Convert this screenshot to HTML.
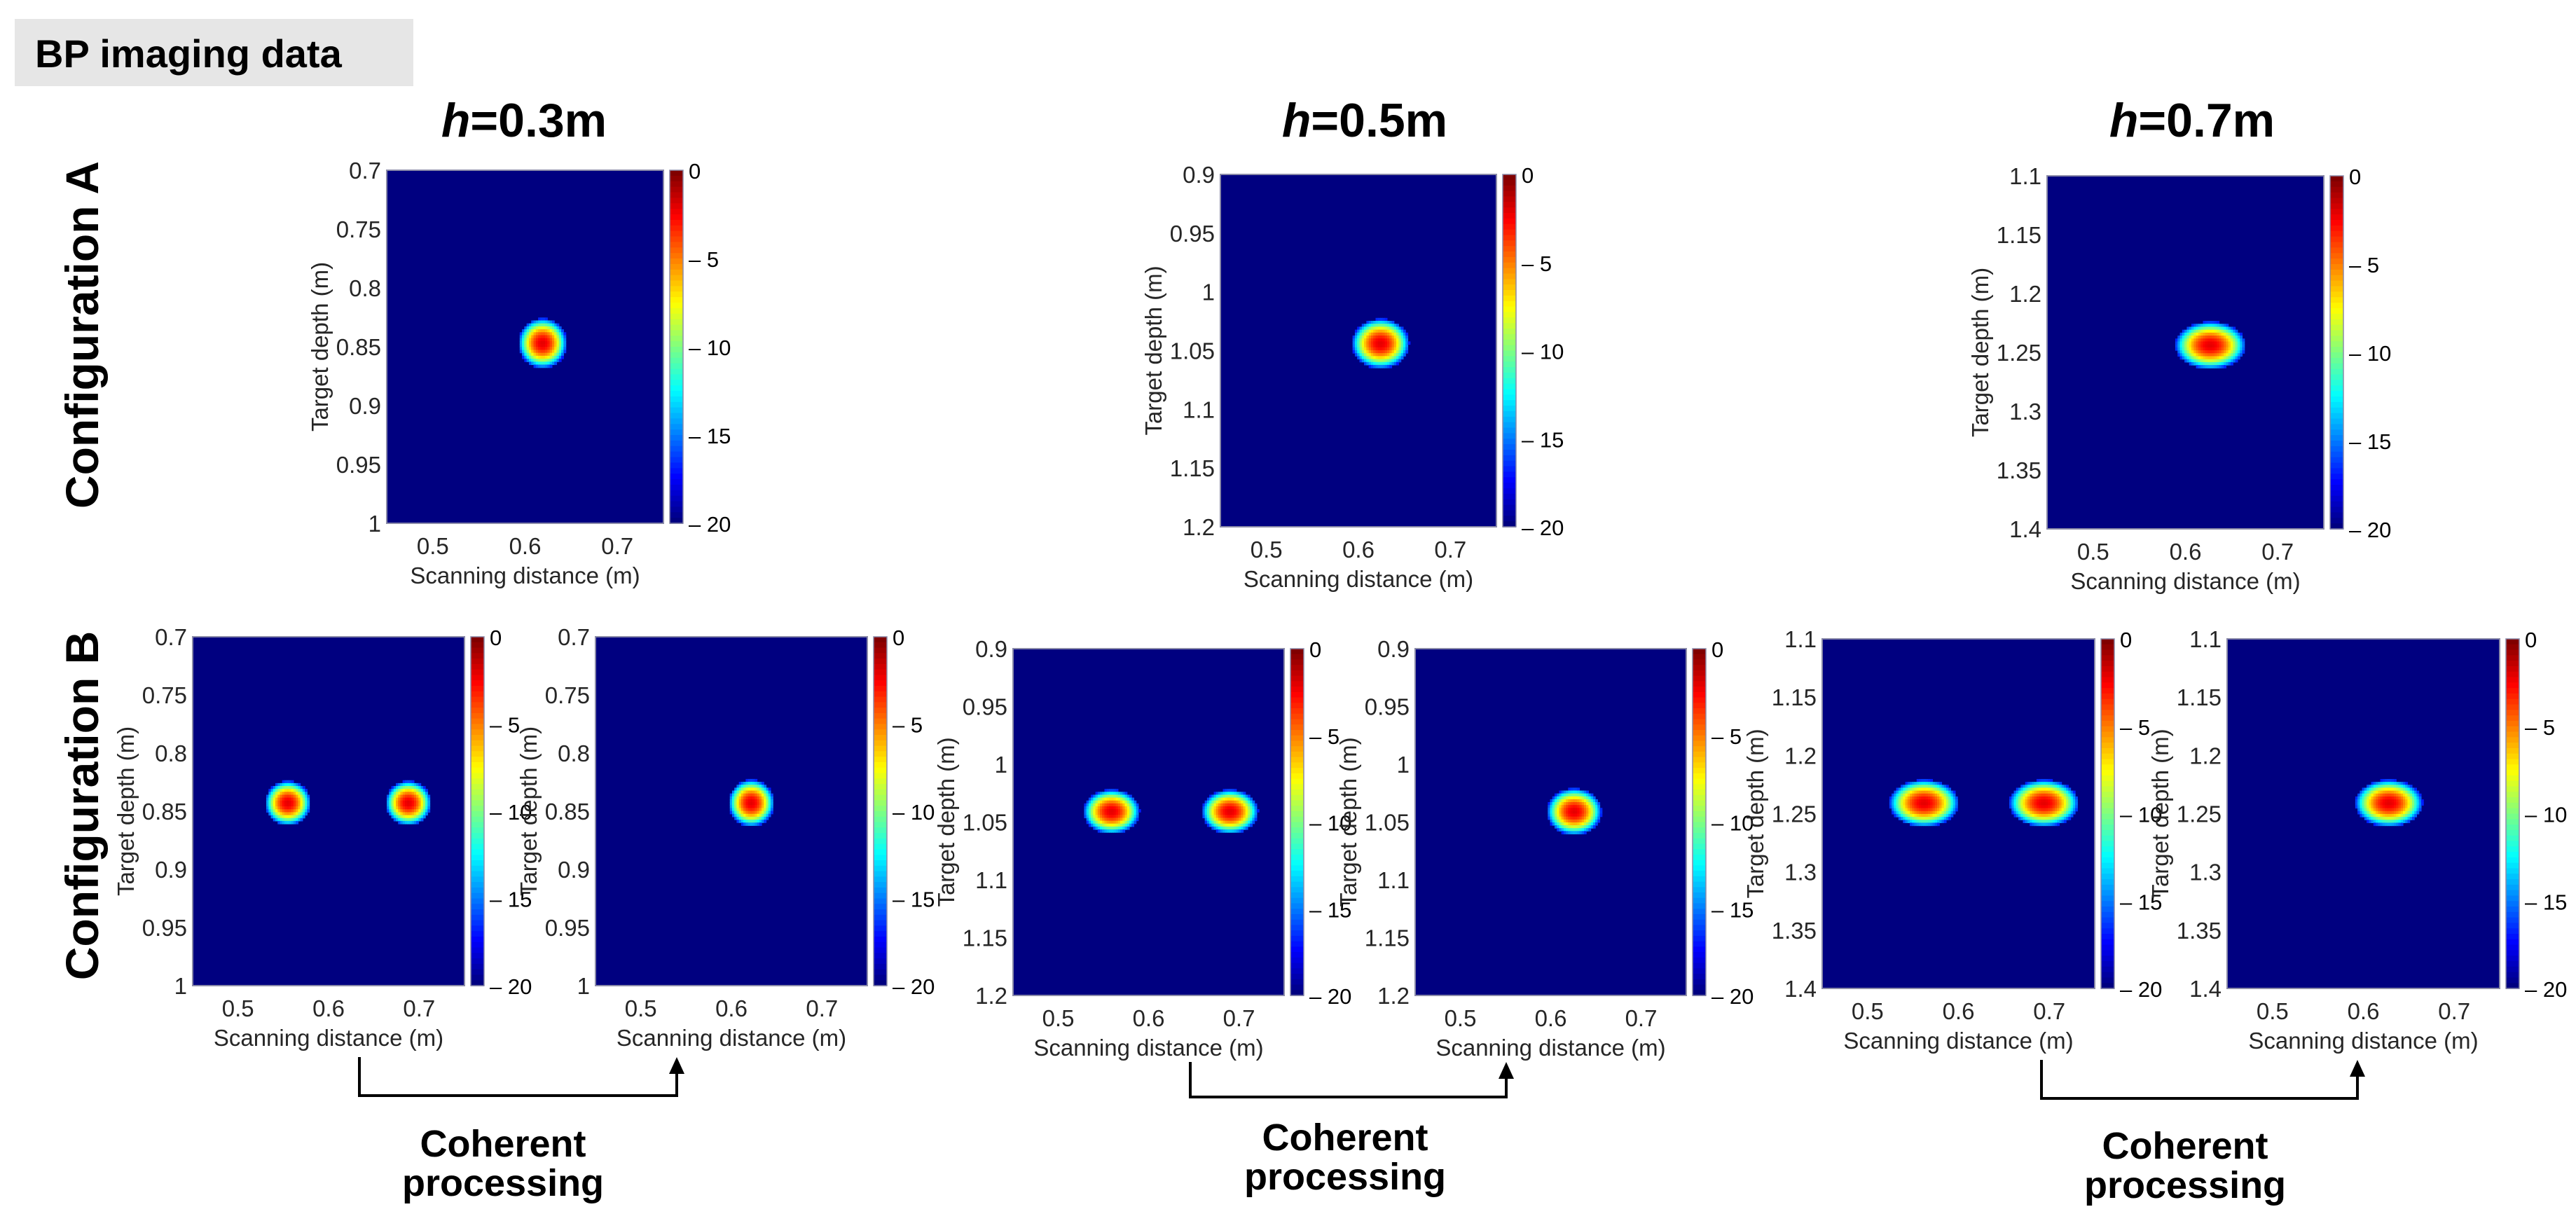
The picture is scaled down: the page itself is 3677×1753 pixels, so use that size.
<!DOCTYPE html>
<html><head><meta charset="utf-8"><style>
html,body{margin:0;padding:0;background:#fff;}
svg{display:block;font-family:"Liberation Sans",Arial,sans-serif;}
</style></head><body>
<svg id="fig" width="3677" height="1753" viewBox="0 0 3677 1753" xmlns="http://www.w3.org/2000/svg">
<rect x="0" y="0" width="3677" height="1753" fill="#fff"/>
<g>
<rect x="21" y="27" width="569" height="96" fill="#e6e6e6"/>
<text x="50" y="96" font-size="56" font-weight="bold" fill="#000">BP imaging data</text>
</g>
<text x="748" y="195" font-size="68" font-weight="bold" text-anchor="middle"><tspan font-style="italic">h</tspan>=0.3m</text>
<text x="1948" y="195" font-size="68" font-weight="bold" text-anchor="middle"><tspan font-style="italic">h</tspan>=0.5m</text>
<text x="3129" y="195" font-size="68" font-weight="bold" text-anchor="middle"><tspan font-style="italic">h</tspan>=0.7m</text>
<text transform="translate(140,478) rotate(-90)" font-size="66" font-weight="bold" text-anchor="middle">Configuration A</text>
<text transform="translate(140,1150) rotate(-90)" font-size="66" font-weight="bold" text-anchor="middle">Configuration B</text>
<g id="panels"></g>
<g id="arrows"></g>
</svg>
<script>
// ---- data ----
const panelNames = ["a-h03","a-h05","a-h07","b-h03-raw","b-h03-coherent","b-h05-raw","b-h05-coherent","b-h07-raw","b-h07-coherent"];
const depthMin = [0.7,0.9,1.1,0.7,0.7,0.9,0.9,1.1,1.1];
const depthMax = [1.0,1.2,1.4,1.0,1.0,1.2,1.2,1.4,1.4];
const depthTicks = [
 ["0.7","0.75","0.8","0.85","0.9","0.95","1"],
 ["0.9","0.95","1","1.05","1.1","1.15","1.2"],
 ["1.1","1.15","1.2","1.25","1.3","1.35","1.4"]];
const scanMin = 0.45, scanMax = 0.75;
const scanTicks = [0.5,0.6,0.7];
const cbTicks = [0,-5,-10,-15,-20];
// targets per panel: [scan position, depth, half-width (m), half-height (m)]
const targets = [
 [[0.619,0.847,0.026,0.021]],
 [[0.624,1.044,0.031,0.021]],
 [[0.627,1.244,0.038,0.020]],
 [[0.555,0.843,0.025,0.019],[0.688,0.843,0.025,0.019]],
 [[0.622,0.843,0.025,0.020]],
 [[0.559,1.041,0.031,0.019],[0.690,1.041,0.031,0.019]],
 [[0.626,1.041,0.030,0.020]],
 [[0.562,1.241,0.038,0.020],[0.694,1.241,0.038,0.020]],
 [[0.628,1.241,0.037,0.020]]];
// ---- layout ----
const boxes = [
 [552,947,243,747],[1742,2136,249,752],[2922,3317,251,755],
 [275,663,909,1407],[850,1238,909,1407],
 [1446,1833,926,1421],[2020,2407,926,1421],
 [2601,2990,912,1411],[3179,3568,912,1411]];
const arrowSpans = [[513,966,1509,1564],[1699,2150,1516,1566],[2914,3365,1513,1568]];
const cohX = [718,1920,3119];
const cohY = [1651,1642,1654];

const NS="http://www.w3.org/2000/svg";
function mk(tag,attrs,parent){const e=document.createElementNS(NS,tag);for(const k in attrs)e.setAttribute(k,attrs[k]);if(parent)parent.appendChild(e);return e;}
function jet(v){ // v in [0,1]
 const r=Math.min(1,Math.max(0,1.5-Math.abs(4*v-3)));
 const g=Math.min(1,Math.max(0,1.5-Math.abs(4*v-2)));
 const b=Math.min(1,Math.max(0,1.5-Math.abs(4*v-1)));
 return "rgb("+Math.round(r*255)+","+Math.round(g*255)+","+Math.round(b*255)+")";}
const panelsG=document.getElementById('panels');
panelNames.forEach((nm,i)=>{
 const [x0,x1,y0,y1]=boxes[i];
 const g=mk('g',{},panelsG);
 
 
 const xs=v=>x0+(v-scanMin)/(scanMax-scanMin)*(x1-x0);
 const ys=v=>y0+(v-depthMin[i])/(depthMax[i]-depthMin[i])*(y1-y0);
 const bg=mk('rect',{x:x0,y:y0,width:x1-x0,height:y1-y0,fill:jet(0)},g);
 
 
 const step=0.0025;
 targets[i].forEach((t,ti)=>{
  const [cx,cy,rx,ry]=t;
  for(let sx=cx-rx*1.1;sx<=cx+rx*1.1;sx+=step){
   for(let sy=cy-ry*1.1;sy<=cy+ry*1.1;sy+=step){
    const r2=((sx-cx)/rx)**2+((sy-cy)/ry)**2;
    if(r2>1)continue;
    const db=-2-15*r2;
    const c=mk('rect',{x:xs(sx-step/2),y:ys(sy-step/2),width:xs(step)-xs(0)+0.6,height:ys(depthMin[i]+step)-ys(depthMin[i])+0.6,fill:jet((db+20)/20)},g);
    
    
   }
  }
 });
 mk('rect',{x:x0,y:y0,width:x1-x0,height:y1-y0,fill:'none',stroke:'#8a8aa8','stroke-width':2},g);
 // y ticks
 const tl=depthTicks[Math.floor(depthMin[i]*10+0.01)===7?0:(depthMin[i]<1?1:2)];
 tl.forEach(s=>{
  const t=mk('text',{x:x0-8,y:ys(parseFloat(s))+12,'font-size':33,'text-anchor':'end',fill:'#262626'},g);
  t.textContent=s;
  
  
 });
 scanTicks.forEach(v=>{
  const t=mk('text',{x:xs(v),y:y1+44,'font-size':33,'text-anchor':'middle',fill:'#262626'},g);
  t.textContent=v.toFixed(1);
  
  
 });
 const xl=mk('text',{x:(x0+x1)/2,y:y1+86,'font-size':33,'text-anchor':'middle',fill:'#262626'},g);
 xl.textContent='Scanning distance (m)';
 
 
 const yl=mk('text',{transform:'translate('+(x0-84)+','+((y0+y1)/2)+') rotate(-90)','font-size':33,'text-anchor':'middle',fill:'#262626'},g);
 yl.textContent='Target depth (m)';
 
 
 // colorbar
 const cbx=x1+9, cbw=19, n=64;
 const cb=mk('g',{},g);
 
 
 for(let k=0;k<n;k++){
  const yy=y0+(y1-y0)*k/n;
  mk('rect',{x:cbx,y:yy,width:cbw,height:(y1-y0)/n+0.8,fill:jet(1-k/(n-1))},cb);
 }
 mk('rect',{x:cbx,y:y0,width:cbw,height:y1-y0,fill:'none',stroke:'#8a8aa8','stroke-width':1.5},cb);
 cbTicks.forEach(v=>{
  const yy=y0+(-v)/20*(y1-y0);
  const t=mk('text',{x:cbx+cbw+8,y:yy+12,'font-size':31,fill:'#000'},cb);
  t.textContent=v===0?'0':'\u2013 '+(-v);
  
  
 });
});
const ar=document.getElementById('arrows');
arrowSpans.forEach((a,i)=>{
 const [xa,xb,ya,yb]=a;
 const g=mk('g',{},ar);
 
 
 mk('path',{d:`M${xa},${ya} V${yb} H${xb} V${ya+22}`,fill:'none',stroke:'#000','stroke-width':4},g);
 mk('path',{d:`M${xb-11},${ya+24} L${xb},${ya} L${xb+11},${ya+24} Z`,fill:'#000'},g);
 const t1=mk('text',{x:cohX[i],y:cohY[i],'font-size':54,'font-weight':'bold','text-anchor':'middle'},g);
 t1.textContent='Coherent';
 
 
 const t2=mk('text',{x:cohX[i],y:cohY[i]+56,'font-size':54,'font-weight':'bold','text-anchor':'middle'},g);
 t2.textContent='processing';
 
 
});
</script>
</body></html>
